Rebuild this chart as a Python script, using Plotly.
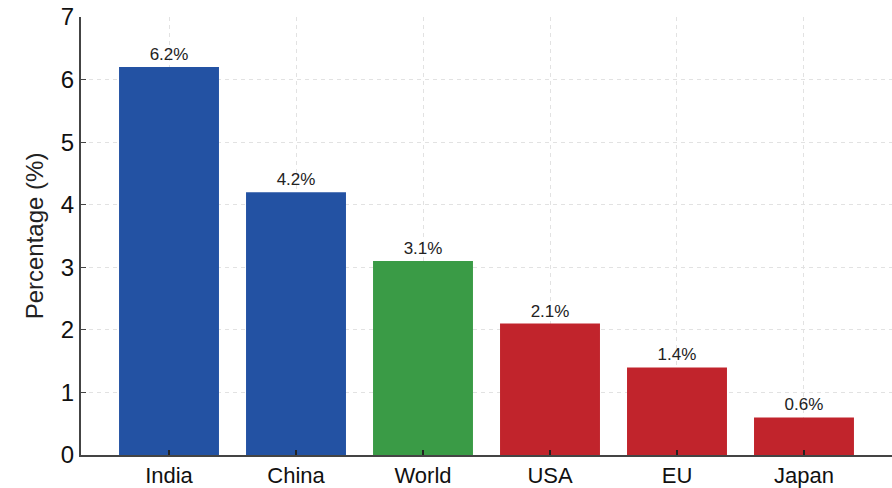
import plotly.graph_objects as go

categories = ["India", "China", "World", "USA", "EU", "Japan"]
values = [6.2, 4.2, 3.1, 2.1, 1.4, 0.6]
labels = ["6.2%", "4.2%", "3.1%", "2.1%", "1.4%", "0.6%"]
colors = ["#2352a3", "#2352a3", "#3a9b46", "#c1242c", "#c1242c", "#c1242c"]
y_ticks = [0, 1, 2, 3, 4, 5, 6, 7]

fig = go.Figure(go.Bar(
    x=list(range(len(categories))), y=values, text=labels, textposition="outside",
    marker=dict(color=colors, line=dict(width=0)), width=0.787,
    textfont=dict(size=17, color="#222", family="Liberation Sans, Arial"),
    cliponaxis=False,
))
fig.update_layout(
    width=892, height=488, margin=dict(l=81, r=0, t=17, b=30, pad=0),
    plot_bgcolor="white", paper_bgcolor="white", showlegend=False,
    font=dict(family="Liberation Sans, Arial", color="#111"),
)
fig.update_xaxes(
    tickmode="array", tickvals=list(range(len(categories))), ticktext=categories,
    range=[-0.693, 5.693], showline=True, linecolor="#444", linewidth=2,
    ticks="inside", ticklen=5, tickcolor="#222", tickwidth=2,
    showgrid=True, gridcolor="#e2e2e2", griddash="4px,4px", gridwidth=1,
    tickfont=dict(size=22), zeroline=False,
)
fig.update_yaxes(
    range=[0, 7], tickvals=y_ticks, showline=True, linecolor="#444", linewidth=2,
    ticks="inside", ticklen=5, tickcolor="#444", tickwidth=1,
    showgrid=True, gridcolor="#e2e2e2", griddash="4px,4px", gridwidth=1,
    tickfont=dict(size=24), zeroline=False,
    title=dict(text="Percentage (%)", font=dict(size=24, color="#222"), standoff=10),
)
fig.write_html("out.html", config={"displayModeBar": False})
